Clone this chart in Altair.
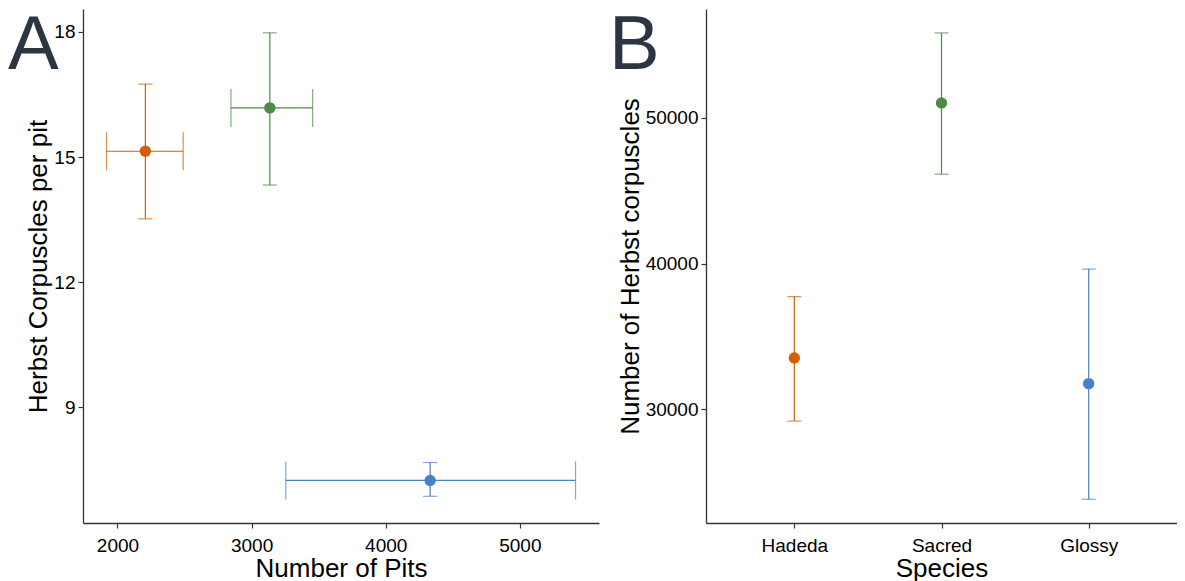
import altair as alt
import pandas as pd

species = ["Hadeda", "Sacred", "Glossy"]
colors = ["#D55E00", "#4E8A47", "#4A80C8"]

pits_mean = [2208, 3136, 4331]
pits_lo = [1918, 2846, 3255]
pits_hi = [2490, 3455, 5415]

hc_pit_mean = [15.14, 16.18, 7.25]
hc_pit_lo = [13.52, 14.33, 6.87]
hc_pit_hi = [16.75, 17.98, 7.68]

hc_total_mean = [33525, 51018, 31760]
hc_total_lo = [29190, 46130, 23830]
hc_total_hi = [37730, 55820, 39620]

x_ticks_a = [2000, 3000, 4000, 5000]
y_ticks_a = [9, 12, 15, 18]
y_ticks_b = [30000, 40000, 50000]

df = pd.DataFrame({
    "species": species,
    "pits": pits_mean, "pits_lo": pits_lo, "pits_hi": pits_hi,
    "hcp": hc_pit_mean, "hcp_lo": hc_pit_lo, "hcp_hi": hc_pit_hi,
    "hct": hc_total_mean, "hct_lo": hc_total_lo, "hct_hi": hc_total_hi,
})

FONT = "Liberation Sans"
color = alt.Color("species:N", scale=alt.Scale(domain=species, range=colors), legend=None)
LW = 1.2
H = 514

# ---------- Panel A ----------
xa = alt.Scale(domain=[1743, 5590], nice=False, zero=False)
ya = alt.Scale(domain=[6.23, 18.55], nice=False, zero=False)
xax = alt.Axis(values=x_ticks_a, title="Number of Pits", format="d")
yax = alt.Axis(values=y_ticks_a, title="Herbst Corpuscles per pit")

baseA = alt.Chart(df)
hbar = baseA.mark_rule(strokeWidth=LW).encode(
    x=alt.X("pits_lo:Q", scale=xa, axis=xax), x2="pits_hi:Q",
    y=alt.Y("hcp:Q", scale=ya, axis=yax), color=color)
vbar = baseA.mark_rule(strokeWidth=LW).encode(
    x=alt.X("pits:Q", scale=xa), y=alt.Y("hcp_lo:Q", scale=ya), y2="hcp_hi:Q", color=color)
hcap_l = baseA.mark_tick(orient="vertical", size=38, thickness=LW).encode(
    x=alt.X("pits_lo:Q", scale=xa), y=alt.Y("hcp:Q", scale=ya), color=color)
hcap_r = baseA.mark_tick(orient="vertical", size=38, thickness=LW).encode(
    x=alt.X("pits_hi:Q", scale=xa), y=alt.Y("hcp:Q", scale=ya), color=color)
vcap_t = baseA.mark_tick(orient="horizontal", size=14, thickness=LW).encode(
    x=alt.X("pits:Q", scale=xa), y=alt.Y("hcp_hi:Q", scale=ya), color=color)
vcap_b = baseA.mark_tick(orient="horizontal", size=14, thickness=LW).encode(
    x=alt.X("pits:Q", scale=xa), y=alt.Y("hcp_lo:Q", scale=ya), color=color)
ptsA = baseA.mark_circle(size=130, opacity=1).encode(
    x=alt.X("pits:Q", scale=xa), y=alt.Y("hcp:Q", scale=ya), color=color)
labA = alt.Chart(pd.DataFrame({"t": ["A"]})).mark_text(
    fontSize=76, font=FONT, color="#2C3642", align="left", baseline="top"
).encode(text="t:N", x=alt.value(-75), y=alt.value(0))

panelA = alt.layer(hbar, vbar, hcap_l, hcap_r, vcap_t, vcap_b, ptsA, labA).properties(
    width=516, height=H)

# ---------- Panel B ----------
xb = alt.Scale(domain=species, type="point", padding=0.6)
yb = alt.Scale(domain=[22200, 57460], nice=False, zero=False)
xbx = alt.Axis(title="Species", labelAngle=0)
ybx = alt.Axis(values=y_ticks_b, title="Number of Herbst corpuscles", format="d")

baseB = alt.Chart(df)
vbarB = baseB.mark_rule(strokeWidth=LW).encode(
    x=alt.X("species:N", scale=xb, axis=xbx, sort=species),
    y=alt.Y("hct_lo:Q", scale=yb, axis=ybx), y2="hct_hi:Q", color=color)
capTB = baseB.mark_tick(orient="horizontal", size=14, thickness=LW).encode(
    x=alt.X("species:N", scale=xb, sort=species), y=alt.Y("hct_hi:Q", scale=yb), color=color)
capBB = baseB.mark_tick(orient="horizontal", size=14, thickness=LW).encode(
    x=alt.X("species:N", scale=xb, sort=species), y=alt.Y("hct_lo:Q", scale=yb), color=color)
ptsB = baseB.mark_circle(size=130, opacity=1).encode(
    x=alt.X("species:N", scale=xb, sort=species), y=alt.Y("hct:Q", scale=yb), color=color)
labB = alt.Chart(pd.DataFrame({"t": ["B"]})).mark_text(
    fontSize=76, font=FONT, color="#2C3642", align="left", baseline="top"
).encode(text="t:N", x=alt.value(-97), y=alt.value(0))

panelB = alt.layer(vbarB, capTB, capBB, ptsB, labB).properties(width=471, height=H)

chart = alt.hconcat(panelA, panelB, spacing=10).properties(padding=0).configure_view(
    stroke=None
).configure_axis(
    grid=False, domainColor="#333333", domainWidth=1.3, tickColor="#333333",
    tickSize=5, tickWidth=1.2, labelColor="black", labelFont=FONT, labelFontSize=19,
    titleFont=FONT, titleFontSize=26, titleFontWeight="normal", titleColor="black",
    labelPadding=3,
).configure_axisX(titlePadding=0, labelPadding=8).configure_axisY(titlePadding=2)

chart.save("out.html", embed_options={"renderer": "svg", "actions": False})
